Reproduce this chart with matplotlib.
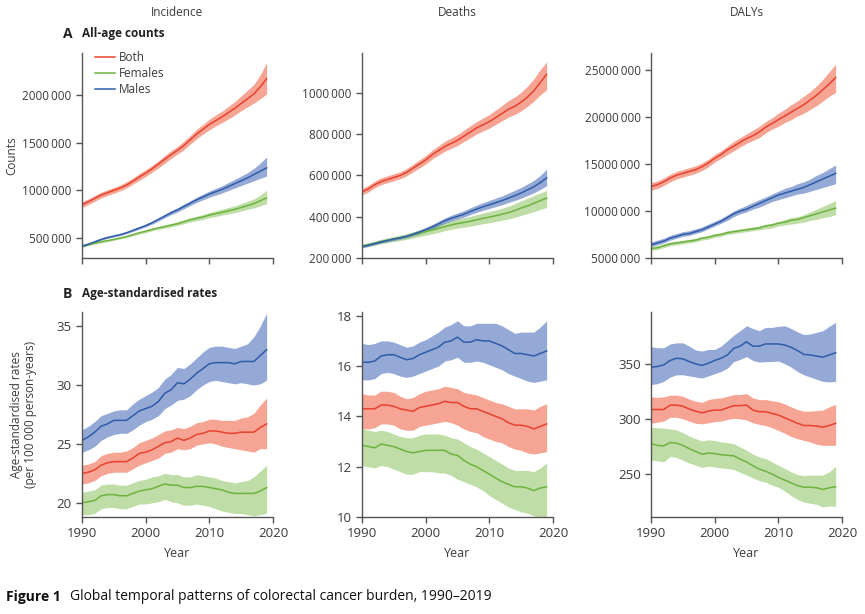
import matplotlib
matplotlib.use("Agg")
import matplotlib.pyplot as plt

plt.rcParams["font.family"] = ["Open Sans", "DejaVu Sans"]
plt.rcParams["font.size"] = 8.5

years = list(range(1990, 2020))

# ---- A: all-age counts (incidence/deaths in thousands, DALYs in millions)
inc_both = [850, 880, 915, 950, 975, 1000, 1025, 1055, 1095, 1140, 1180, 1225, 1275, 1325, 1375,
            1420, 1470, 1530, 1590, 1640, 1690, 1730, 1770, 1815, 1860, 1910, 1960, 2010, 2085, 2170]
inc_both_lo = [820, 850, 885, 920, 945, 970, 995, 1025, 1065, 1105, 1145, 1190, 1235, 1285, 1335,
               1380, 1425, 1485, 1540, 1590, 1635, 1675, 1710, 1750, 1790, 1835, 1875, 1915, 1960, 2010]
inc_both_hi = [880, 910, 945, 980, 1005, 1030, 1055, 1090, 1130, 1175, 1215, 1260, 1310, 1365, 1415,
               1460, 1515, 1575, 1640, 1690, 1745, 1790, 1830, 1880, 1930, 1990, 2050, 2110, 2210, 2340]
inc_male = [415, 435, 460, 485, 505, 520, 535, 555, 580, 605, 630, 660, 695, 730, 765,
            795, 830, 865, 900, 930, 960, 985, 1010, 1040, 1070, 1100, 1130, 1165, 1200, 1235]
inc_male_lo = [405, 425, 450, 475, 495, 510, 525, 545, 568, 592, 617, 645, 678, 712, 745,
               773, 806, 840, 873, 900, 928, 950, 972, 998, 1025, 1050, 1075, 1100, 1125, 1150]
inc_male_hi = [425, 445, 470, 495, 515, 530, 545, 565, 592, 618, 643, 675, 712, 748, 785,
               817, 855, 890, 928, 960, 992, 1020, 1048, 1082, 1115, 1150, 1185, 1230, 1285, 1350]
inc_fem = [415, 430, 445, 460, 472, 485, 500, 515, 535, 555, 570, 590, 605, 620, 635,
           650, 670, 690, 705, 720, 740, 755, 770, 785, 800, 820, 840, 860, 890, 920]
inc_fem_lo = [405, 420, 435, 450, 462, 475, 489, 503, 522, 541, 556, 575, 589, 603, 617,
              631, 649, 668, 681, 695, 713, 726, 740, 753, 766, 783, 800, 815, 838, 860]
inc_fem_hi = [425, 440, 455, 470, 482, 495, 511, 527, 548, 569, 584, 605, 621, 637, 653,
              670, 692, 713, 730, 747, 767, 785, 802, 819, 837, 860, 885, 910, 950, 1000]

dth_both = [520, 535, 555, 570, 580, 590, 600, 615, 635, 655, 675, 700, 720, 740, 755,
            770, 790, 810, 830, 845, 860, 880, 900, 920, 935, 955, 980, 1010, 1050, 1090]
dth_both_lo = [505, 520, 540, 555, 565, 574, 584, 598, 617, 636, 655, 679, 698, 717, 731,
               745, 764, 782, 801, 815, 829, 847, 865, 883, 896, 913, 935, 960, 990, 1015]
dth_both_hi = [537, 552, 572, 588, 598, 608, 618, 633, 654, 675, 696, 722, 743, 765, 781,
               798, 819, 840, 861, 878, 895, 917, 939, 962, 980, 1003, 1033, 1068, 1112, 1150]
dth_male = [255, 262, 270, 278, 285, 292, 298, 305, 315, 325, 337, 350, 365, 380, 392,
            402, 412, 425, 437, 448, 458, 468, 478, 490, 502, 515, 530, 545, 565, 588]
dth_male_lo = [250, 256, 264, 272, 279, 285, 291, 298, 307, 316, 328, 340, 354, 368, 379,
               389, 398, 410, 421, 431, 440, 449, 458, 469, 479, 490, 503, 516, 532, 550]
dth_male_hi = [261, 268, 276, 285, 292, 299, 306, 313, 324, 335, 348, 362, 378, 394, 407,
               418, 429, 443, 456, 468, 479, 490, 501, 514, 528, 542, 559, 576, 600, 630]
dth_fem = [258, 265, 272, 280, 286, 292, 298, 304, 312, 320, 328, 335, 343, 352, 360,
           367, 372, 378, 385, 392, 398, 405, 412, 420, 430, 442, 452, 465, 478, 490]
dth_fem_lo = [250, 256, 262, 269, 274, 280, 285, 290, 297, 304, 311, 317, 324, 332, 339,
              345, 349, 354, 360, 366, 371, 377, 383, 389, 397, 407, 415, 425, 435, 445]
dth_fem_hi = [266, 274, 282, 291, 298, 305, 311, 318, 327, 336, 345, 353, 362, 372, 381,
              389, 395, 402, 410, 418, 425, 433, 441, 451, 463, 477, 489, 503, 515, 528]

daly_both = [12.6, 12.8, 13.1, 13.5, 13.8, 14.0, 14.2, 14.4, 14.7, 15.1, 15.6, 16.0, 16.5, 16.9, 17.3,
             17.7, 18.0, 18.4, 18.9, 19.3, 19.7, 20.1, 20.5, 20.9, 21.3, 21.8, 22.3, 22.9, 23.5, 24.2]
daly_both_lo = [12.2, 12.4, 12.7, 13.1, 13.4, 13.6, 13.8, 14.0, 14.3, 14.7, 15.2, 15.6, 16.0, 16.4, 16.8,
                17.2, 17.5, 17.8, 18.3, 18.7, 19.0, 19.4, 19.7, 20.1, 20.4, 20.8, 21.2, 21.7, 22.2, 22.6]
daly_both_hi = [13.0, 13.2, 13.5, 13.9, 14.2, 14.4, 14.6, 14.8, 15.1, 15.5, 16.0, 16.4, 16.9, 17.4, 17.8,
                18.2, 18.6, 19.0, 19.5, 19.9, 20.4, 20.8, 21.3, 21.7, 22.2, 22.7, 23.3, 24.0, 24.8, 25.6]
daly_male = [6.4, 6.6, 6.8, 7.1, 7.3, 7.5, 7.6, 7.8, 8.0, 8.3, 8.6, 8.9, 9.3, 9.7, 10.0,
             10.2, 10.5, 10.8, 11.1, 11.4, 11.7, 11.9, 12.1, 12.3, 12.5, 12.8, 13.1, 13.4, 13.7, 14.0]
daly_male_lo = [6.2, 6.4, 6.6, 6.9, 7.1, 7.3, 7.4, 7.6, 7.8, 8.1, 8.4, 8.7, 9.0, 9.4, 9.7,
                9.9, 10.2, 10.4, 10.7, 11.0, 11.2, 11.4, 11.6, 11.8, 11.9, 12.1, 12.3, 12.5, 12.7, 12.9]
daly_male_hi = [6.7, 6.9, 7.1, 7.4, 7.6, 7.8, 7.9, 8.1, 8.3, 8.6, 8.9, 9.2, 9.6, 10.0, 10.3,
                10.6, 10.9, 11.2, 11.5, 11.8, 12.1, 12.4, 12.6, 12.9, 13.1, 13.4, 13.8, 14.1, 14.5, 14.9]
daly_fem = [6.0, 6.1, 6.3, 6.5, 6.6, 6.7, 6.8, 6.9, 7.1, 7.2, 7.4, 7.5, 7.7, 7.8, 7.9,
            8.0, 8.1, 8.2, 8.4, 8.5, 8.7, 8.8, 9.0, 9.1, 9.3, 9.5, 9.7, 9.9, 10.1, 10.3]
daly_fem_lo = [5.8, 5.9, 6.1, 6.3, 6.4, 6.5, 6.6, 6.7, 6.9, 7.0, 7.2, 7.3, 7.5, 7.6, 7.7,
               7.8, 7.9, 8.0, 8.1, 8.2, 8.4, 8.5, 8.6, 8.7, 8.8, 9.0, 9.1, 9.3, 9.4, 9.6]
daly_fem_hi = [6.2, 6.3, 6.5, 6.7, 6.8, 6.9, 7.0, 7.1, 7.3, 7.4, 7.6, 7.7, 7.9, 8.0, 8.1,
               8.2, 8.3, 8.4, 8.6, 8.7, 8.9, 9.1, 9.3, 9.4, 9.6, 9.9, 10.2, 10.5, 10.8, 11.1]

# ---- B: age-standardised rates per 100 000
asir_both = [22.5, 22.6, 22.8, 23.2, 23.4, 23.5, 23.5, 23.5, 23.8, 24.2, 24.3, 24.5, 24.8, 25.1, 25.2,
             25.5, 25.3, 25.5, 25.8, 25.9, 26.1, 26.1, 26.0, 25.9, 25.9, 26.0, 26.0, 26.0, 26.4, 26.7]
asir_both_lo = [21.6, 21.7, 21.9, 22.3, 22.5, 22.6, 22.6, 22.6, 22.9, 23.2, 23.4, 23.6, 23.8, 24.2, 24.3,
                24.6, 24.5, 24.6, 24.9, 25.0, 25.1, 25.0, 24.8, 24.7, 24.6, 24.5, 24.4, 24.3, 24.6, 24.6]
asir_both_hi = [23.2, 23.3, 23.5, 24.0, 24.2, 24.3, 24.3, 24.4, 24.7, 25.1, 25.3, 25.5, 25.8, 26.1, 26.2,
                26.4, 26.3, 26.5, 26.8, 26.9, 27.1, 27.1, 27.0, 27.0, 27.0, 27.2, 27.3, 27.6, 28.3, 28.9]
asir_male = [25.3, 25.6, 26.0, 26.5, 26.7, 27.0, 27.0, 27.0, 27.4, 27.8, 28.0, 28.2, 28.6, 29.3, 29.6,
             30.2, 30.1, 30.5, 31.0, 31.4, 31.8, 31.9, 31.9, 31.9, 31.8, 32.0, 32.0, 32.0, 32.5, 33.0]
asir_male_lo = [24.3, 24.5, 24.8, 25.3, 25.6, 25.8, 25.9, 25.9, 26.2, 26.6, 26.9, 27.1, 27.4, 28.0, 28.3,
                28.7, 28.8, 29.1, 29.6, 30.0, 30.3, 30.4, 30.3, 30.2, 30.1, 30.2, 30.1, 30.0, 30.1, 30.4]
asir_male_hi = [26.2, 26.5, 26.9, 27.4, 27.6, 27.8, 27.9, 27.9, 28.4, 28.8, 29.1, 29.4, 29.8, 30.5, 30.9,
                31.5, 31.4, 31.8, 32.3, 32.8, 33.2, 33.3, 33.3, 33.2, 33.1, 33.3, 33.5, 34.1, 35.0, 36.1]
asir_fem = [20.0, 20.1, 20.2, 20.6, 20.7, 20.7, 20.6, 20.6, 20.8, 21.0, 21.1, 21.2, 21.4, 21.6, 21.5,
            21.5, 21.3, 21.3, 21.4, 21.4, 21.3, 21.2, 21.1, 20.9, 20.8, 20.8, 20.8, 20.8, 21.0, 21.3]
asir_fem_lo = [19.0, 19.0, 19.1, 19.5, 19.6, 19.6, 19.5, 19.5, 19.7, 19.9, 19.9, 20.0, 20.1, 20.3, 20.1,
               20.0, 19.8, 19.8, 19.9, 19.8, 19.7, 19.5, 19.3, 19.2, 19.1, 19.1, 19.0, 18.9, 19.0, 19.1]
asir_fem_hi = [20.9, 21.0, 21.1, 21.5, 21.6, 21.6, 21.5, 21.5, 21.7, 21.9, 22.0, 22.2, 22.3, 22.5, 22.4,
               22.4, 22.2, 22.2, 22.4, 22.3, 22.2, 22.1, 21.9, 21.8, 21.7, 21.8, 21.9, 22.2, 22.7, 23.2]

asdr_both = [14.3, 14.3, 14.3, 14.45, 14.45, 14.4, 14.3, 14.25, 14.2, 14.35, 14.4, 14.45, 14.5, 14.6, 14.55,
             14.55, 14.4, 14.3, 14.3, 14.2, 14.1, 14.0, 13.9, 13.75, 13.65, 13.65, 13.6, 13.5, 13.6, 13.7]
asdr_both_lo = [13.5, 13.5, 13.55, 13.7, 13.7, 13.65, 13.5, 13.45, 13.45, 13.6, 13.65, 13.7, 13.75, 13.8, 13.75,
                13.65, 13.5, 13.4, 13.35, 13.2, 13.1, 13.0, 12.95, 12.8, 12.7, 12.65, 12.55, 12.5, 12.55, 12.6]
asdr_both_hi = [14.9, 14.85, 14.85, 15.0, 15.0, 14.95, 14.8, 14.7, 14.75, 14.9, 15.0, 15.05, 15.1, 15.2, 15.15,
                15.1, 14.95, 14.9, 14.85, 14.75, 14.65, 14.55, 14.5, 14.4, 14.3, 14.3, 14.3, 14.25, 14.4, 14.5]
asdr_male = [16.15, 16.15, 16.2, 16.4, 16.45, 16.45, 16.35, 16.25, 16.3, 16.45, 16.55, 16.65, 16.75, 16.95, 17.0,
             17.15, 16.95, 16.95, 17.05, 17.0, 17.0, 16.9, 16.8, 16.65, 16.5, 16.5, 16.45, 16.4, 16.5, 16.6]
asdr_male_lo = [15.45, 15.45, 15.5, 15.7, 15.75, 15.7, 15.6, 15.55, 15.6, 15.7, 15.8, 15.9, 16.0, 16.2, 16.25,
                16.35, 16.15, 16.15, 16.2, 16.15, 16.05, 15.95, 15.85, 15.7, 15.6, 15.5, 15.4, 15.35, 15.4, 15.45]
asdr_male_hi = [16.9, 16.85, 16.9, 17.0, 17.0, 16.95, 16.85, 16.75, 16.8, 16.95, 17.05, 17.2, 17.35, 17.55, 17.65,
                17.8, 17.6, 17.6, 17.7, 17.7, 17.7, 17.7, 17.6, 17.45, 17.3, 17.35, 17.35, 17.35, 17.55, 17.8]
asdr_fem = [12.85, 12.8, 12.75, 12.9, 12.85, 12.8, 12.7, 12.6, 12.55, 12.6, 12.65, 12.65, 12.65, 12.65, 12.5,
            12.45, 12.25, 12.1, 12.0, 11.85, 11.7, 11.55, 11.4, 11.3, 11.2, 11.2, 11.15, 11.05, 11.15, 11.2]
asdr_fem_lo = [12.05, 12.0, 11.95, 12.05, 12.0, 11.9, 11.8, 11.7, 11.7, 11.8, 11.8, 11.8, 11.75, 11.75, 11.65,
               11.5, 11.4, 11.3, 11.2, 11.05, 10.85, 10.7, 10.55, 10.4, 10.3, 10.2, 10.15, 10.05, 10.0, 9.95]
asdr_fem_hi = [13.5, 13.45, 13.4, 13.45, 13.4, 13.3, 13.2, 13.15, 13.15, 13.25, 13.3, 13.3, 13.3, 13.25, 13.15,
               13.1, 12.95, 12.8, 12.7, 12.55, 12.4, 12.25, 12.1, 11.95, 11.85, 11.85, 11.85, 11.8, 11.95, 12.15]

asdalyr_both = [308.5, 308.5, 308.5, 312.5, 312.5, 311.5, 309, 307, 305.5, 307, 308, 308, 310, 312, 312,
                312.5, 308, 306.5, 306.5, 305, 303.5, 301, 298.5, 296, 294, 294, 293.5, 292.5, 294, 296]
asdalyr_both_lo = [296, 297, 298, 301.5, 301.5, 300, 298, 296, 295.5, 296.5, 297.5, 298, 299.5, 300.5, 300,
                   299, 296.5, 295, 294, 292, 289.5, 287, 284, 282, 280.5, 279, 277, 276, 276, 276]
asdalyr_both_hi = [320, 319.5, 320, 321.5, 321.5, 320.5, 318, 316, 315, 317.5, 318.5, 319, 320.5, 322, 322,
                   323, 319, 317.5, 317.5, 316.5, 315.5, 313.5, 311, 308.5, 307, 307, 307.5, 308, 311, 313]
asdalyr_male = [347, 347.5, 349, 353, 355, 354.5, 352, 350, 348.5, 350.5, 353, 355, 358, 364, 366,
                370, 366, 366, 368, 368, 368, 367, 365, 362, 358.5, 358, 357, 356, 358, 360]
asdalyr_male_lo = [331, 332, 334, 338, 340, 340, 339, 338, 337, 339, 341, 343, 346, 352, 354,
                   356.5, 353, 351.5, 352, 352, 352.5, 350, 347, 343, 340, 338, 336, 334, 333.5, 334]
asdalyr_male_hi = [365.5, 364.5, 364.5, 368, 369, 369, 366, 362.5, 361.5, 363, 363, 366, 371, 376, 380,
                   384.5, 382, 380, 383, 383, 384, 384.5, 382, 379, 376.5, 377, 378.5, 380, 384, 387.5]
asdalyr_fem = [277.5, 276, 275.5, 278.5, 278, 276, 273, 270.5, 268, 269, 268.5, 267.5, 267, 266.5, 263.5,
               261, 257.5, 254.5, 252.5, 250, 247, 244.5, 242, 239.5, 238, 238, 237.5, 236, 237.5, 238.5]
asdalyr_fem_lo = [262.5, 262, 261, 266, 265, 262.5, 260, 258, 256, 257, 256.5, 255.5, 255, 254, 251.5,
                  249, 246.5, 244, 242.5, 240, 238, 234.5, 230.5, 227, 224.5, 223.5, 222.5, 220, 221, 220.5]
asdalyr_fem_hi = [292.5, 292, 291.5, 291, 290, 287.5, 284.5, 282, 280, 281, 280.5, 279, 278.5, 277.5, 274.5,
                  271.5, 268, 265.5, 264, 261, 258, 255, 252, 249.5, 248.5, 249, 249, 249, 252, 257]

col_titles = ["Incidence", "Deaths", "DALYs"]
line_colors = {"Both": "#e8412f", "Females": "#6db33f", "Males": "#2e5ca8"}
band_colors = {"Both": "#ef5a3a", "Females": "#8cc25e", "Males": "#3f63b5"}
axis_grey = "#555555"
text_grey = "#3a3a3a"


def big_number(v, pos=None):
    # 2000000 -> "2000 000" (thin space before the last group)
    v = int(round(v))
    return "{}\u2009{:03d}".format(v // 1000, v % 1000)


def draw_panel(ax, data, scale, ylim, yticks, show_xlabels):
    # data: dict name -> (mean, lo, hi); draw bands then lines
    order = ["Both", "Females", "Males"]
    for name in order:
        mean, lo, hi = data[name]
        ax.fill_between(years, [v * scale for v in lo], [v * scale for v in hi],
                        color=band_colors[name], alpha=0.55, linewidth=0)
    for name in order:
        mean, lo, hi = data[name]
        ax.plot(years, [v * scale for v in mean], color=line_colors[name], lw=1.1, label=name)
    ax.set_xlim(1990, 2020)
    ax.set_ylim(*ylim)
    ax.set_yticks(yticks)
    ax.set_xticks([1990, 2000, 2010, 2020])
    for s in ["top", "right"]:
        ax.spines[s].set_visible(False)
    for s in ["left", "bottom"]:
        ax.spines[s].set_color(axis_grey)
        ax.spines[s].set_linewidth(1.0)
    ax.tick_params(colors=axis_grey, labelcolor=text_grey, length=4, width=1.0)
    if show_xlabels:
        ax.tick_params(axis="both", labelsize=9.5)
        ax.set_xlabel("Year", fontsize=9, color=text_grey, labelpad=5)
    else:
        ax.set_xticklabels([])
        ax.tick_params(axis="y", labelsize=8.5)


fig = plt.figure(figsize=(8.65, 6.14), dpi=100)
lefts = [0.0948, 0.4185, 0.7526]
w, h = 0.2208, 0.3339
top_axes = [fig.add_axes([l, 0.5798, w, h]) for l in lefts]
bot_axes = [fig.add_axes([l, 0.158, w, h]) for l in lefts]

# top row
draw_panel(top_axes[0],
           {"Both": (inc_both, inc_both_lo, inc_both_hi),
            "Females": (inc_fem, inc_fem_lo, inc_fem_hi),
            "Males": (inc_male, inc_male_lo, inc_male_hi)},
           1000, (290000, 2440000), [500000, 1000000, 1500000, 2000000], False)
draw_panel(top_axes[1],
           {"Both": (dth_both, dth_both_lo, dth_both_hi),
            "Females": (dth_fem, dth_fem_lo, dth_fem_hi),
            "Males": (dth_male, dth_male_lo, dth_male_hi)},
           1000, (200000, 1193000), [200000, 400000, 600000, 800000, 1000000], False)
draw_panel(top_axes[2],
           {"Both": (daly_both, daly_both_lo, daly_both_hi),
            "Females": (daly_fem, daly_fem_lo, daly_fem_hi),
            "Males": (daly_male, daly_male_lo, daly_male_hi)},
           1e6, (5e6, 26.8e6), [5e6, 10e6, 15e6, 20e6, 25e6], False)
for ax in top_axes:
    ax.yaxis.set_major_formatter(plt.FuncFormatter(big_number))

# bottom row
draw_panel(bot_axes[0],
           {"Both": (asir_both, asir_both_lo, asir_both_hi),
            "Females": (asir_fem, asir_fem_lo, asir_fem_hi),
            "Males": (asir_male, asir_male_lo, asir_male_hi)},
           1, (18.8, 36.2), [20, 25, 30, 35], True)
draw_panel(bot_axes[1],
           {"Both": (asdr_both, asdr_both_lo, asdr_both_hi),
            "Females": (asdr_fem, asdr_fem_lo, asdr_fem_hi),
            "Males": (asdr_male, asdr_male_lo, asdr_male_hi)},
           1, (10, 18.15), [10, 12, 14, 16, 18], True)
draw_panel(bot_axes[2],
           {"Both": (asdalyr_both, asdalyr_both_lo, asdalyr_both_hi),
            "Females": (asdalyr_fem, asdalyr_fem_lo, asdalyr_fem_hi),
            "Males": (asdalyr_male, asdalyr_male_lo, asdalyr_male_hi)},
           1, (211, 397), [250, 300, 350], True)

# column titles, centred over each column
for l, t in zip(lefts, col_titles):
    fig.text(l + w / 2, 1 - 13 / 614, t, ha="center", va="center", fontsize=8.5, color=text_grey)

top_axes[0].set_ylabel("Counts", fontsize=8.5, color=text_grey, labelpad=3)
bot_axes[0].set_ylabel("Age-standardised rates\n(per 100 000 person-years)", fontsize=8.5,
                       color=text_grey, labelpad=14, linespacing=1.05)

# panel letters
fig.text(63 / 865, 1 - 34 / 614, "A", fontsize=10, fontweight="bold", va="center", color="#222222")
fig.text(82 / 865, 1 - 34 / 614, "All-age counts", fontsize=8.5, fontweight="bold", va="center", color="#222222")
fig.text(63 / 865, 1 - 294 / 614, "B", fontsize=10, fontweight="bold", va="center", color="#222222")
fig.text(82 / 865, 1 - 294 / 614, "Age-standardised rates", fontsize=8.5, fontweight="bold", va="center",
         color="#222222")

leg = top_axes[0].legend(loc="upper left", bbox_to_anchor=(0.068, 1.01), frameon=False, fontsize=8.5,
                         handlelength=1.7, handletextpad=0.35, labelspacing=0.27, borderpad=0,
                         borderaxespad=0)
for txt in leg.get_texts():
    txt.set_color(text_grey)

# caption
cap = fig.text(6 / 865, 1 - 597 / 614, "Figure 1", fontsize=10, fontweight="bold", va="center", color="#111111")
top_axes[0].annotate("Global temporal patterns of colorectal cancer burden, 1990\u20132019",
                     xy=(1, 0.5), xycoords=cap, xytext=(7, 0), textcoords="offset points",
                     va="center", fontsize=10, color="#111111", annotation_clip=False)

fig.savefig("out.png", dpi=100)
